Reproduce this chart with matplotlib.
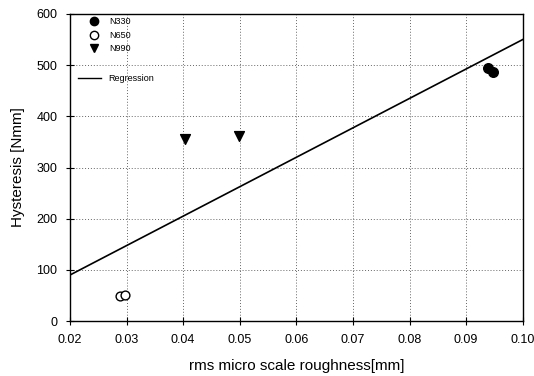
import numpy as np
import matplotlib
matplotlib.use("Agg")
import matplotlib.pyplot as plt
from matplotlib.lines import Line2D

plt.rcParams['font.family'] = ['Liberation Sans', 'DejaVu Sans']

n330_x = [0.0939, 0.0948]
n330_y = [494, 487]
n650_x = [0.0288, 0.0297]
n650_y = [50, 51]
n990_x = [0.0403, 0.0499]
n990_y = [355, 361]
# regression line end points
reg_x = [0.02, 0.10]
reg_y = [90, 550]

xticks = [0.02, 0.03, 0.04, 0.05, 0.06, 0.07, 0.08, 0.09, 0.10]
xticklabels = ['0.02', '0.03', '0.04', '0.05', '0.06', '0.07', '0.08', '0.09', '0.10']
yticks = [0, 100, 200, 300, 400, 500, 600]

fig = plt.figure(figsize=(5.34, 3.76), dpi=100)
ax = fig.add_axes([0.131, 0.146, 0.848, 0.817])

ax.plot(reg_x, reg_y, color='black', lw=1.2, zorder=2)
ax.scatter(n330_x, n330_y, marker='o', s=48, color='black', zorder=3)
ax.scatter(n650_x, n650_y, marker='o', s=40, facecolors='white', edgecolors='black', lw=1, zorder=3)
ax.scatter(n990_x, n990_y, marker='v', s=50, color='black', zorder=3)

ax.set_xlim(0.02, 0.10)
ax.set_ylim(0, 600)
ax.set_xticks(xticks)
ax.set_xticklabels(xticklabels)
ax.set_yticks(yticks)
ax.tick_params(direction='inout', length=6, width=0.8, labelsize=9, pad=6)
ax.grid(True, linestyle=(0, (1, 2)), color='#666666', lw=0.7)
for s in ax.spines.values():
    s.set_linewidth(1)

ax.set_xlabel('rms micro scale roughness[mm]', fontsize=11, labelpad=10)
ax.set_ylabel('Hysteresis [Nmm]', fontsize=11, labelpad=8)

# legend: markers on top, regression a bit lower
h1 = [Line2D([], [], marker='o', ls='', color='black', ms=6),
      Line2D([], [], marker='o', ls='', mfc='white', mec='black', ms=6),
      Line2D([], [], marker='v', ls='', color='black', ms=6)]
leg1 = ax.legend(h1, ['N330', 'N650', 'N990'], loc='upper left', frameon=False,
                 fontsize=6.5, bbox_to_anchor=(0.02, 1.01), handletextpad=0.6,
                 labelspacing=0.5, borderaxespad=0.3)
ax.add_artist(leg1)
h2 = [Line2D([], [], color='black', lw=1)]
ax.legend(h2, ['Regression'], loc='upper left', frameon=False, fontsize=6.5,
          bbox_to_anchor=(0.0, 0.83), handlelength=2.5, handletextpad=0.8)

fig.savefig('out.png', dpi=100)
